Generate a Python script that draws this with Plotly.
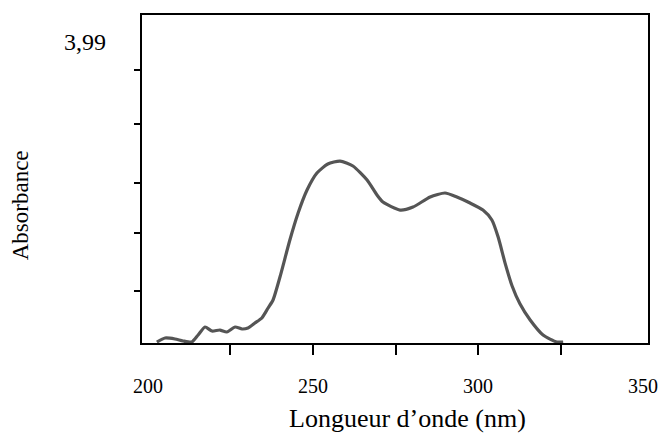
import plotly.graph_objects as go

# Wavelength (nm) and absorbance
wavelength = [202.7, 205.2, 208.2, 210.6, 213.3, 215.2, 217.3, 219.4, 221.8, 223.9,
              226.4, 228.5, 230.3, 232.4, 234.5, 236.4, 237.9, 240.0, 243.0, 245.5,
              248.2, 251.2, 254.5, 258.2, 262.1, 266.4, 269.4, 271.2, 276.4, 280.3,
              285.5, 290.0, 293.6, 297.6, 301.5, 304.2, 306.1, 308.2, 310.3, 312.7,
              315.8, 319.7, 323.9, 325.8]
absorbance = [0.013, 0.066, 0.053, 0.027, 0.013, 0.106, 0.212, 0.159, 0.172, 0.146,
              0.212, 0.186, 0.199, 0.265, 0.332, 0.464, 0.570, 0.875, 1.366, 1.724,
              2.029, 2.254, 2.374, 2.413, 2.347, 2.161, 1.962, 1.869, 1.763, 1.803,
              1.936, 1.989, 1.936, 1.856, 1.763, 1.631, 1.405, 1.060, 0.760, 0.520,
              0.305, 0.106, 0.013, 0.013]

x_minor_ticks = [225, 250, 275, 300, 325]
x_labels = [200, 250, 300, 350]
y_ticks = [0.69, 1.46, 2.12, 2.90, 3.62]
y_top_label = 3.99
y_top_text = "3,99"

fig = go.Figure()
fig.add_trace(go.Scatter(
    x=wavelength, y=absorbance, mode="lines",
    line=dict(color="#555555", width=3.2, shape="spline", smoothing=0.6),
    showlegend=False, hoverinfo="skip"))

font_family = "Liberation Serif"

for v in x_labels:
    fig.add_annotation(x=v, xref="x", y=-0.131, yref="paper", text=str(v),
                       showarrow=False, font=dict(family=font_family, size=20, color="black"),
                       xanchor="center", yanchor="middle")

fig.add_annotation(x=-0.067, xref="paper", y=y_top_label, yref="y", text=y_top_text,
                   showarrow=False, font=dict(family=font_family, size=24, color="black"),
                   xanchor="right", yanchor="middle")

fig.add_annotation(x=0.524, xref="paper", y=-0.229, yref="paper",
                   text="Longueur d\u2019onde (nm)", showarrow=False,
                   font=dict(family=font_family, size=26, color="black"),
                   xanchor="center", yanchor="middle")

fig.add_annotation(x=-0.241, xref="paper", y=0.42, yref="paper",
                   text="Absorbance", showarrow=False, textangle=-90,
                   font=dict(family=font_family, size=23, color="black"),
                   xanchor="center", yanchor="middle")

fig.update_xaxes(range=[198.2, 351.5], tickvals=x_minor_ticks, ticks="outside",
                 ticklen=10, tickwidth=2, tickcolor="black", showticklabels=False,
                 showline=True, linecolor="black", linewidth=2, mirror=True,
                 showgrid=False, zeroline=False)
fig.update_yaxes(range=[0, 4.35], tickvals=y_ticks, ticks="outside",
                 ticklen=6, tickwidth=2, tickcolor="black", showticklabels=False,
                 showline=True, linecolor="black", linewidth=2, mirror=True,
                 showgrid=False, zeroline=False)

fig.update_layout(width=667, height=434,
                  margin=dict(l=142, r=19, t=15, b=91),
                  paper_bgcolor="white", plot_bgcolor="white",
                  font=dict(family=font_family))

fig.write_html("out.html")
